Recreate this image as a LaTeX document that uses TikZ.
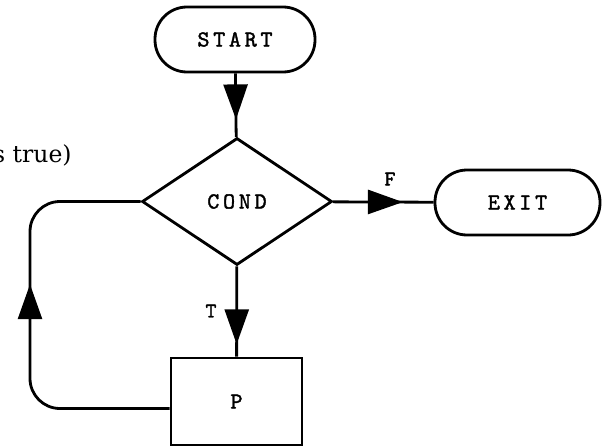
\documentclass[tikz,border=0pt]{standalone}
\usepackage{fontspec}
\newfontfamily\tyf{lmmono10-regular.otf}[LetterSpace=16, FakeBold=1.6]
\newfontfamily\notefont{DejaVu Serif}
\usetikzlibrary{shapes.geometric,arrows.meta,decorations.markings}
\tikzset{
  line/.style={line width=2.8pt},
  tw/.style={font=\tyf\fontsize{23}{27}\selectfont},
  term/.style={line, draw, rectangle, rounded corners=32pt, minimum height=65pt, inner sep=0pt, tw},
  proc/.style={line, draw, rectangle, minimum width=131pt, minimum height=87pt, inner sep=0pt, tw},
  dec/.style={line, draw, diamond, aspect=1.5, minimum width=190pt, minimum height=127pt, inner sep=0pt, tw},
  lbl/.style={font=\tyf\fontsize{21}{25}\selectfont, inner sep=0pt},
  head/.style={postaction={decorate, decoration={markings, mark=at position #1 with {\arrow{Triangle[length=35pt,width=24pt]}}}}}
}
\begin{document}
\begin{tikzpicture}[x=1pt,y=-1pt]
\useasboundingbox (0,0) rectangle (605,447);
\clip (0,0) rectangle (605,447);
\node[term, minimum width=160pt] (start) at (235,39.5) {START};
\node[dec] (cond) at (237,201.5) {COND};
\node[term, minimum width=165pt] (exit) at (517.5,202.5) {EXIT};
\node[proc] (p) at (236.5,401.5) {P};
\coordinate (loopx) at (30,300);
\node[lbl] (t) at (211,311) {T};
\node[lbl] (f) at (390,179) {F};
\node[anchor=base west, inner sep=0pt, font=\notefont\fontsize{23.5}{28}\selectfont] (note) at (-7,162) {s true)};
\draw[line, head=46pt] (start) -- (cond);
\draw[line, head=78pt] (cond) -- (p);
\draw[line, head=70pt] (cond) -- (exit);
\draw[line, rounded corners=30pt, head=251pt] ([yshift=-7pt]p.west) -| (loopx |- cond.west) -- (cond.west);
\end{tikzpicture}
\end{document}
